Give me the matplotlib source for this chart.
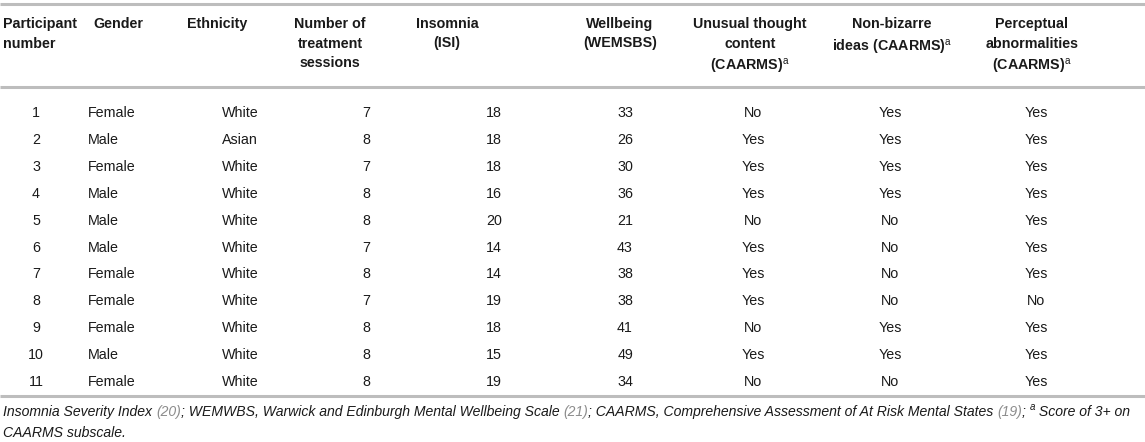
import matplotlib
matplotlib.use('Agg')
import matplotlib.pyplot as plt

plt.rcParams['font.family'] = ['Liberation Sans', 'DejaVu Sans']
plt.rcParams['mathtext.fontset'] = 'custom'
plt.rcParams['mathtext.rm'] = 'Liberation Sans'

# dados da tabela
participantes = ['1', '2', '3', '4', '5', '6', '7', '8', '9', '10', '11']
genero = ['Female', 'Male', 'Female', 'Male', 'Male', 'Male', 'Female', 'Female', 'Female', 'Male', 'Female']
etnia = ['White', 'Asian', 'White', 'White', 'White', 'White', 'White', 'White', 'White', 'White', 'White']
sessoes = [7, 8, 7, 8, 8, 7, 8, 7, 8, 8, 8]
insonia = [18, 18, 18, 16, 20, 14, 14, 19, 18, 15, 19]
bemestar = [33, 26, 30, 36, 21, 43, 38, 38, 41, 49, 34]
pensamento = ['No', 'Yes', 'Yes', 'Yes', 'No', 'Yes', 'Yes', 'Yes', 'No', 'Yes', 'No']
ideias = ['Yes', 'Yes', 'Yes', 'Yes', 'No', 'No', 'No', 'No', 'Yes', 'Yes', 'No']
percecao = ['Yes', 'Yes', 'Yes', 'Yes', 'Yes', 'Yes', 'Yes', 'No', 'Yes', 'Yes', 'Yes']

cabecalhos = ['Participant\nnumber', 'Gender', 'Ethnicity', 'Number of\ntreatment\nsessions',
              'Insomnia\n(ISI)', 'Wellbeing\n(WEMSBS)', 'Unusual thought\ncontent\n(CAARMS)$^{\\mathrm{a}}$',
              'Non-bizarre\nideas (CAARMS)$^{\\mathrm{a}}$', 'Perceptual\nabnormalities\n(CAARMS)$^{\\mathrm{a}}$']

colunas = [participantes, genero, etnia, sessoes, insonia, bemestar, pensamento, ideias, percecao]

# posicoes (px): cabecalho x, alinhamento, valores x, alinhamento
cab_x = [3, 93, 187, 330, 447, 620, 750, 892, 1032]
cab_ha = ['left', 'left', 'left', 'center', 'center', 'center', 'center', 'center', 'center']
val_x = [36, 88, 240, 366, 494, 625, 753, 890, 1036]
val_ha = ['center', 'left', 'center', 'center', 'center', 'center', 'center', 'center', 'center']

W, H = 1145, 442
fig = plt.figure(figsize=(W / 100, H / 100), dpi=100)
ax = fig.add_axes([0, 0, 1, 1])
ax.set_xlim(0, W)
ax.set_ylim(H, 0)
ax.axis('off')

cor_linha = '#bdbdbd'
for y in [4, 87, 396]:
    ax.plot([0, W], [y, y], color=cor_linha, lw=2.2, solid_capstyle='butt')

fs = 10.3
for i, c in enumerate(cabecalhos):
    ax.text(cab_x[i], 17, c, ha=cab_ha[i], va='top', fontsize=fs, fontweight='bold',
            color='#1a1a1a', linespacing=1.5, multialignment=cab_ha[i])

y0, dy = 113, 26.9
for i, col in enumerate(colunas):
    for r, v in enumerate(col):
        ax.text(val_x[i], y0 + r * dy, str(v), ha=val_ha[i], va='center', fontsize=fs, color='#1a1a1a')

# nota de rodape, montada por pedacos
pedacos1 = [('Insomnia Severity Index ', '#1a1a1a', False), ('(20)', '#8c8c8c', False),
            ('; WEMWBS, Warwick and Edinburgh Mental Wellbeing Scale ', '#1a1a1a', False),
            ('(21)', '#8c8c8c', False),
            ('; CAARMS, Comprehensive Assessment of At Risk Mental States ', '#1a1a1a', False),
            ('(19)', '#8c8c8c', False), ('; ', '#1a1a1a', False), ('a', '#1a1a1a', True),
            (' Score of 3+ on', '#1a1a1a', False)]
fig.canvas.draw()
rend = fig.canvas.get_renderer()
x = 3
inv = ax.transData.inverted()
fn = 10.05
for txt, cor, sup in pedacos1:
    if sup:
        t = ax.text(x, 407, txt, ha='left', va='center', fontsize=7, style='italic', color=cor)
    else:
        t = ax.text(x, 412, txt, ha='left', va='center', fontsize=fn, style='italic', color=cor)
    bb = t.get_window_extent(rend)
    x = inv.transform((bb.x1, bb.y1))[0]
ax.text(3, 433, 'CAARMS subscale.', ha='left', va='center', fontsize=fn, style='italic', color='#1a1a1a')

fig.savefig('out.png', dpi=100)
